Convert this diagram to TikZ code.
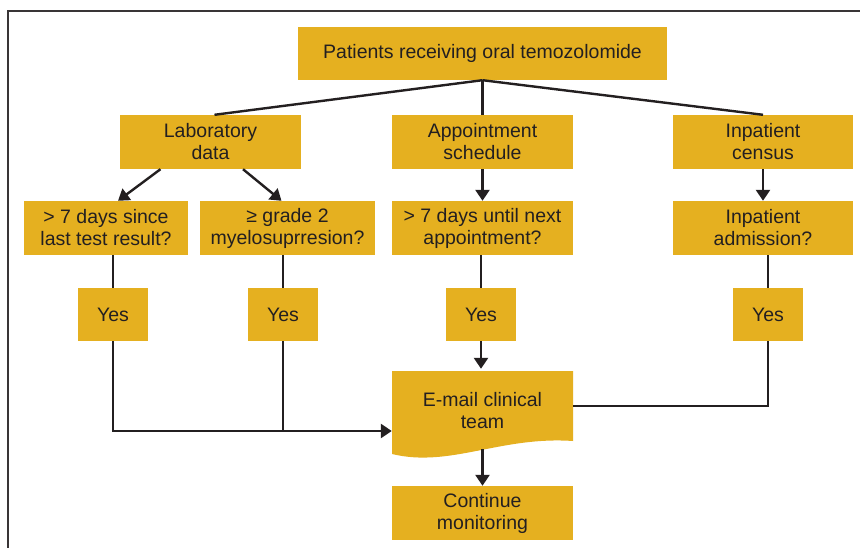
\documentclass[tikz,border=0pt]{standalone}
\usepackage{fontspec}
\setmainfont{Liberation Sans}
\usetikzlibrary{arrows.meta}
\definecolor{gold}{HTML}{E5B020}
\definecolor{ink}{HTML}{231F20}
\begin{document}
\begin{tikzpicture}[x=1pt,y=-1pt,
  box/.style={fill=gold, draw=none, inner sep=0pt, align=center, text=ink,
    font=\fontsize{19.5}{22}\selectfont},
  conn/.style={draw=ink, line width=2.4pt},
  arr/.style={conn, -{Triangle[length=11pt,width=14pt]}}]
\clip (0,0) rectangle (860,548);
\fill[white] (0,0) rectangle (860,548);
\draw[ink!90, line width=2pt] (8,11) rectangle (900,600);

\node[box, minimum width=369pt, minimum height=53pt] (top) at (482.5,53.5) {Patients receiving oral temozolomide};
\node[box, minimum width=181pt, minimum height=54pt] (lab) at (210.5,142) {Laboratory\\data};
\node[box, minimum width=181pt, minimum height=54pt] (appt) at (482.5,142) {Appointment\\schedule};
\node[box, minimum width=180pt, minimum height=54pt] (cens) at (763,142) {Inpatient\\census};

\node[box, minimum width=164pt, minimum height=54pt] (q1) at (106,228) {> 7 days since\\last test result?};
\node[box, minimum width=175pt, minimum height=54pt] (q2) at (287.5,228) {≥ grade 2\\myelosuprresion?};
\node[box, minimum width=181pt, minimum height=54pt] (q3) at (482.5,228) {> 7 days until next\\appointment?};
\node[box, minimum width=180pt, minimum height=54pt] (q4) at (763,228) {Inpatient\\admission?};

\node[box, minimum width=70pt, minimum height=53pt] (y1) at (113,314.5) {Yes};
\node[box, minimum width=70pt, minimum height=53pt] (y2) at (283,314.5) {Yes};
\node[box, minimum width=70pt, minimum height=53pt] (y3) at (481,314.5) {Yes};
\node[box, minimum width=70pt, minimum height=53pt] (y4) at (768,314.5) {Yes};

\fill[gold] (392,371) -- (573,371) -- (573,441)
  .. controls (500,436) and (450,468) .. (392,454) -- cycle;
\node[box, fill=none, minimum width=181pt, minimum height=84pt] (email) at (482.5,411) {E-mail clinical\\team};
\coordinate (ein) at ([yshift=-20pt]email.west);
\coordinate (eout) at ([yshift=5pt]email.east);

\node[box, minimum width=181pt, minimum height=54pt] (cont) at (482.5,513) {Continue\\monitoring};

\draw[conn] (top.south) -- ([xshift=4pt]lab.north);
\draw[conn] (top.south) -- (appt.north);
\draw[conn] (top.south) -- (cens.north);

\draw[arr] ([xshift=-50pt]lab.south) -- ([xshift=12pt]q1.north);
\draw[arr] ([xshift=32.5pt]lab.south) -- ([xshift=-6pt]q2.north);
\draw[arr] (appt.south) -- (q3.north);
\draw[arr] (cens.south) -- (q4.north);

\draw[conn] (y1.north |- q1.south) -- (y1.north);
\draw[conn] (y2.north |- q2.south) -- (y2.north);
\draw[conn] (y3.north |- q3.south) -- (y3.north);
\draw[conn] (y4.north |- q4.south) -- (y4.north);

\draw[arr] (y1.south) |- (ein);
\draw[conn] (y2.south) -- (y2.south |- ein);
\draw[arr] (y3.south) -- (y3.south |- email.north);
\draw[conn] (y4.south) |- (eout);
\draw[arr] ([yshift=4pt]email.south) -- (cont.north);
\end{tikzpicture}
\end{document}
